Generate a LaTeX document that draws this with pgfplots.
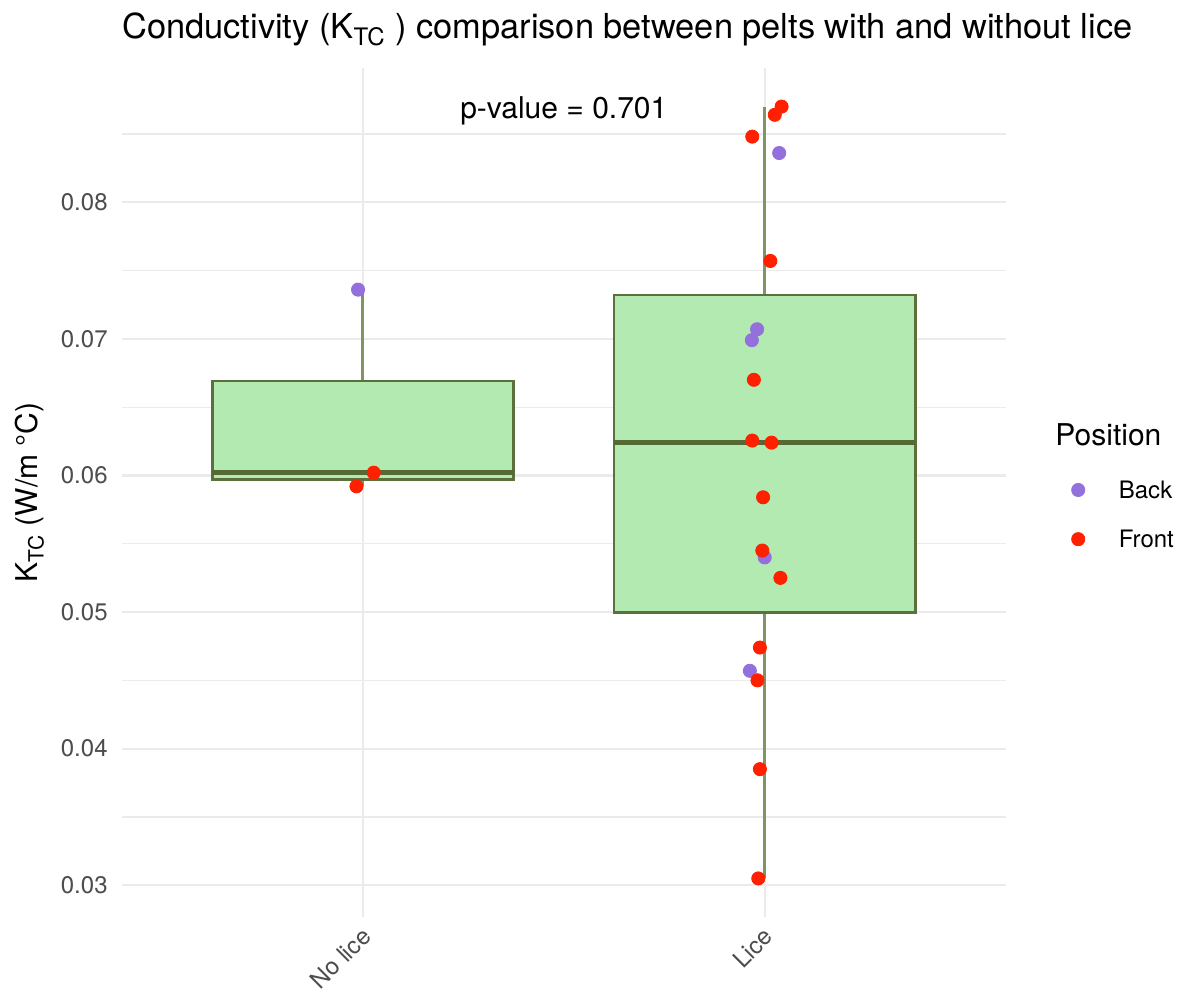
\documentclass[border=0pt]{standalone}
\usepackage{fontspec}
\setmainfont{TeX Gyre Heros}
\usepackage{pgfplots}
\pgfplotsset{compat=1.18}

\definecolor{gridgray}{RGB}{235,235,235}
\definecolor{tickgray}{RGB}{77,77,77}
\definecolor{boxfill}{RGB}{178,234,178}
\definecolor{boxline}{RGB}{92,112,60}
\definecolor{whisk}{RGB}{128,148,100}
\definecolor{medline}{RGB}{85,105,50}
\definecolor{back}{RGB}{147,112,219}
\definecolor{front}{RGB}{255,32,0}

\begin{document}
\begin{tikzpicture}
\useasboundingbox (-60.9pt,-37.5pt) rectangle (532.1pt,458.5pt);
\begin{axis}[
  at={(0pt,0pt)}, anchor=south west,
  scale only axis, width=442pt, height=424.5pt,
  xmin=0.4, xmax=2.6, ymin=0.027675, ymax=0.089825,
  axis line style={draw=none},
  major tick length=0pt, minor tick length=0pt,
  tick style={draw=none},
  scaled y ticks=false,
  xtick={1,2}, xticklabels={No lice, Lice},
  ytick={0.03,0.04,0.05,0.06,0.07,0.08},
  yticklabels={0.03,0.04,0.05,0.06,0.07,0.08},
  minor ytick={0.035,0.045,0.055,0.065,0.075,0.085},
  xmajorgrids, ymajorgrids, yminorgrids,
  major grid style={draw=gridgray, line width=1.1pt},
  minor grid style={draw=gridgray, line width=0.6pt},
  ticklabel style={font=\fontsize{12}{14}\selectfont, text=tickgray},
  yticklabel style={anchor=east, inner sep=0pt, xshift=-6.9pt},
  xticklabel style={xshift=-1.4pt, yshift=-4.2pt, rotate=45, anchor=north east, inner sep=0pt},
  ylabel={K\textsubscript{TC} (W/m °C)},
  ylabel style={font=\fontsize{15}{17}\selectfont, at={(axis description cs:-0.104,0.5)}, anchor=center},
  legend style={at={(1.074,0.474)}, anchor=west, draw=none, fill=none,
    font=\fontsize{12}{14}\selectfont, inner sep=0pt,
    nodes={inner sep=0pt, text height=8.6pt, text depth=0pt},
    row sep=16pt, column sep=0pt},
  legend cell align=left,
  legend image code/.code={\draw[#1] plot coordinates {(0pt,0pt)};},
  /tikz/every odd column/.append style={column sep=17pt},
]
% whiskers
\addplot[forget plot, whisk, line width=1.4pt] coordinates {(1,0.0592) (1,0.0597)};
\addplot[forget plot, whisk, line width=1.4pt] coordinates {(1,0.0669) (1,0.0736)};
\addplot[forget plot, whisk, line width=1.4pt] coordinates {(2,0.0305) (2,0.04995)};
\addplot[forget plot, whisk, line width=1.4pt] coordinates {(2,0.0732) (2,0.0870)};
% boxes: lower and upper quartiles, width 0.75
\addplot[forget plot, draw=boxline, fill=boxfill, line width=1.3pt]
  coordinates {(0.625,0.0597) (1.375,0.0597) (1.375,0.0669) (0.625,0.0669)} --cycle;
\addplot[forget plot, draw=boxline, fill=boxfill, line width=1.3pt]
  coordinates {(1.625,0.04995) (2.375,0.04995) (2.375,0.0732) (1.625,0.0732)} --cycle;
% medians
\addplot[forget plot, medline, line width=2.6pt] coordinates {(0.625,0.0602) (1.375,0.0602)};
\addplot[forget plot, medline, line width=2.6pt] coordinates {(1.625,0.0624) (2.375,0.0624)};

% jittered observations
\addplot[only marks, mark=*, mark size=3.3pt, color=back, mark options={draw=none, fill=back}]
  coordinates {(0.988,0.0736) (2.036,0.0836) (1.981,0.0707) (1.968,0.0699)
               (2.000,0.0540) (1.963,0.0457)};
\addlegendentry{Back}
\addplot[only marks, mark=*, mark size=3.3pt, color=front, mark options={draw=none, fill=front}]
  coordinates {(0.984,0.0592) (1.027,0.0602) (2.042,0.0870) (2.025,0.0864)
               (1.969,0.0848) (2.014,0.0757) (1.973,0.0670) (1.969,0.06255)
               (2.017,0.0624) (1.996,0.0584) (1.994,0.0545) (2.039,0.0525)
               (1.988,0.0474) (1.982,0.0450) (1.988,0.0385) (1.984,0.0305)};
\addlegendentry{Front}

\node[font=\fontsize{15}{17}\selectfont, anchor=center] at (axis cs:1.5,0.0867) {p-value = 0.701};
\end{axis}
\node[anchor=base west, inner sep=0pt, font=\fontsize{17.2}{19}\selectfont]
  at (0.1pt,439pt) {Conductivity (K\textsubscript{TC} ) comparison between pelts with and without lice};
\node[anchor=base west, inner sep=0pt, font=\fontsize{15}{17}\selectfont]
  at (466.6pt,236pt) {Position};
\end{tikzpicture}
\end{document}
